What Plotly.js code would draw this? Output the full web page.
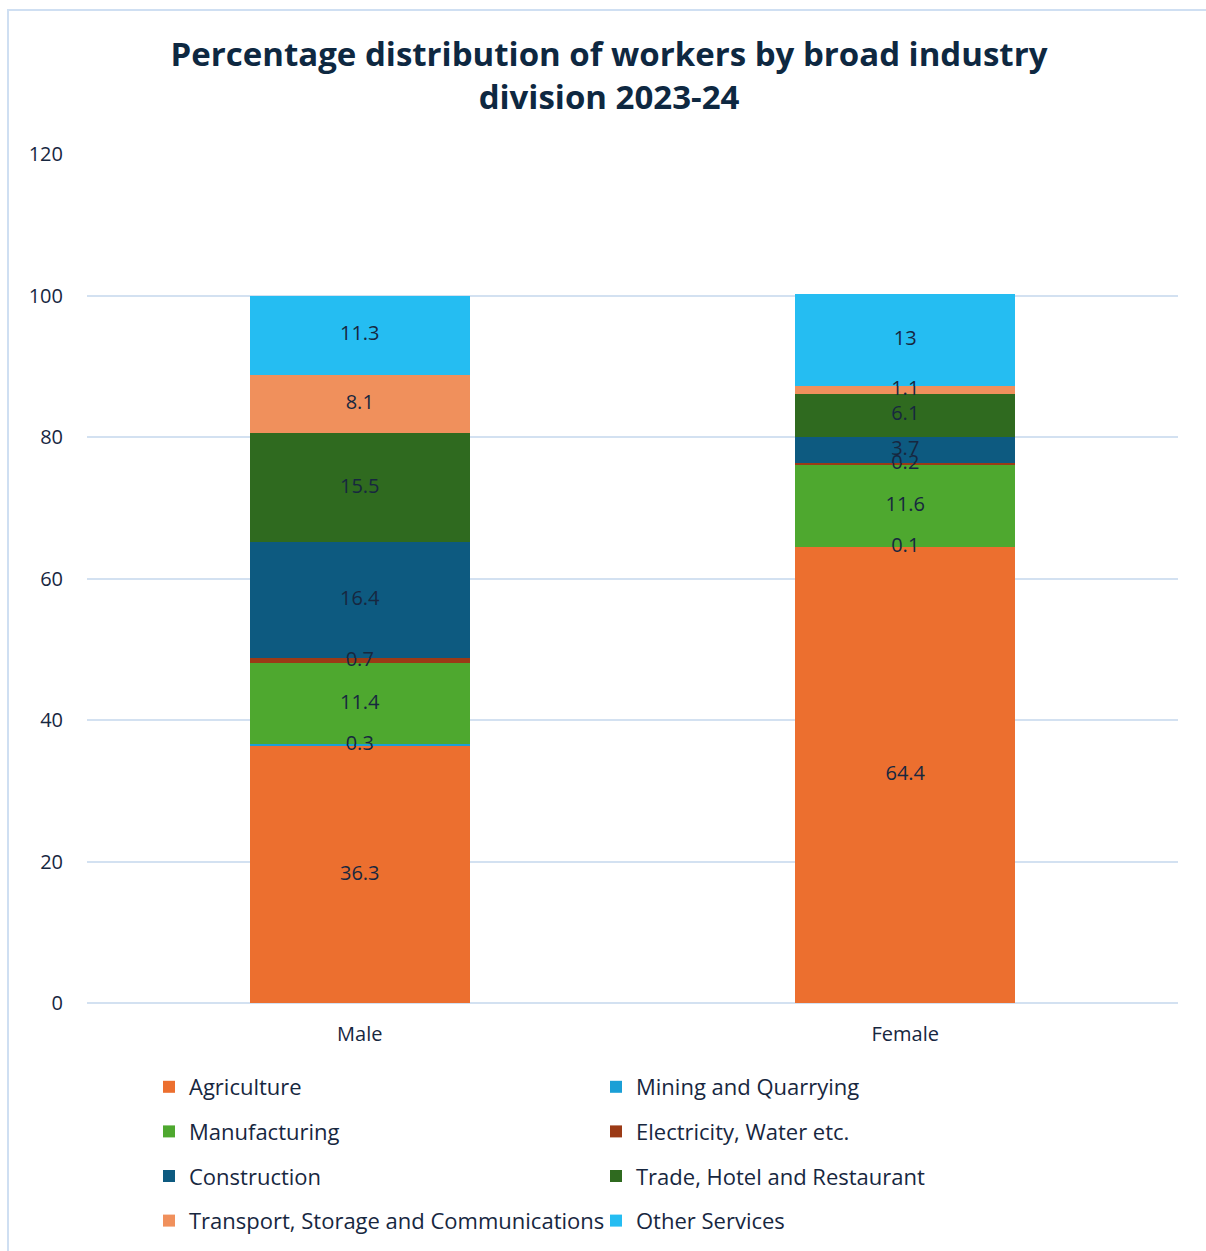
<!DOCTYPE html>
<html>
<head>
<meta charset="utf-8">
<script src="https://cdn.plot.ly/plotly-3.0.1.min.js"></script>
<style>
  html, body { margin: 0; padding: 0; background: #ffffff; }
  #wrap { position: relative; width: 1206px; height: 1251px; overflow: hidden; }
  #chart { position: absolute; left: 0; top: 0; width: 1206px; height: 1251px; }
  #frame { position: absolute; left: 7px; top: 9px; width: 1300px; height: 1400px;
           border-top: 2px solid #cfdff2; border-left: 2px solid #cfdff2; pointer-events: none; }
</style>
</head>
<body>
<div id="wrap">
  <div id="chart"></div>
  <div id="frame"></div>
</div>
<script>
const categories = ["Male", "Female"];
const industries = [
  "Agriculture",
  "Mining and Quarrying",
  "Manufacturing",
  "Electricity, Water etc.",
  "Construction",
  "Trade, Hotel and Restaurant",
  "Transport, Storage and Communications",
  "Other Services"
];
const agriculture   = [36.3, 64.4];
const mining        = [0.3, 0.1];
const manufacturing = [11.4, 11.6];
const electricity   = [0.7, 0.2];
const construction  = [16.4, 3.7];
const trade         = [15.5, 6.1];
const transport     = [8.1, 1.1];
const otherServices = [11.3, 13];
const seriesValues = [agriculture, mining, manufacturing, electricity, construction, trade, transport, otherServices];
const yTicks = [0, 20, 40, 60, 80, 100, 120];

const colors = ["#ec6f2f", "#1a9fd6", "#4ea82f", "#9b3a16", "#0d5a80", "#2f6a1f", "#f0905c", "#25bdf2"];
const legendOf = ["legend", "legend2", "legend", "legend2", "legend", "legend2", "legend", "legend2"];

const FONT = "Open Sans, Noto Sans, sans-serif";
const TXT = "#17273f";

const barTraces = industries.map((name, i) => ({
  type: "bar",
  name: name,
  x: categories,
  y: seriesValues[i],
  marker: { color: colors[i], line: { width: 0 } },
  legend: legendOf[i],
  legendgroup: "g" + i,
  hoverinfo: "x+y+name"
}));

// data labels: centred on each stacked segment, drawn above all bars
const labelTraces = [];
const running = categories.map(() => 0);
seriesValues.forEach((vals, i) => {
  const mids = vals.map((v, k) => running[k] + v / 2);
  vals.forEach((v, k) => { running[k] += v; });
  labelTraces.push({
    type: "scatter",
    mode: "text",
    x: categories,
    y: mids,
    text: vals.map(v => String(v)),
    textposition: "middle center",
    textfont: { family: FONT, size: 20, color: TXT },
    showlegend: false,
    hoverinfo: "skip",
    cliponaxis: false
  });
});

const legendCommon = {
  orientation: "v",
  traceorder: "grouped",
  tracegroupgap: 13,
  font: { family: FONT, size: 22, color: TXT },
  bgcolor: "rgba(0,0,0,0)",
  xref: "container", yref: "container",
  xanchor: "left", yanchor: "top",
  itemwidth: 30,
  itemclick: false, itemdoubleclick: false
};

const layout = {
  width: 1206,
  height: 1251,
  paper_bgcolor: "#ffffff",
  plot_bgcolor: "#ffffff",
  margin: { l: 87, r: 28, t: 154, b: 248, autoexpand: false },
  barmode: "stack",
  bargap: 0.597,
  showlegend: true,
  title: {
    text: "<b>Percentage distribution of workers by broad industry<br>division 2023-24</b>",
    font: { family: FONT, size: 33, color: "#0e2841" },
    x: 0.505, xanchor: "center",
    y: 1 - 66 / 1251, yanchor: "middle",
    xref: "container", yref: "container"
  },
  font: { family: FONT, color: TXT },
  xaxis: {
    type: "category",
    tickfont: { family: FONT, size: 20, color: TXT },
    showgrid: false,
    showline: false,
    zeroline: false,
    ticks: "",
    ticklabelstandoff: 17
  },
  yaxis: {
    range: [0, 120],
    tickvals: yTicks,
    ticktext: yTicks.map(String),
    tickfont: { family: FONT, size: 20, color: TXT },
    showgrid: true,
    gridcolor: "#d3e1f1",
    gridwidth: 2,
    zeroline: true,
    zerolinecolor: "#d3e1f1",
    zerolinewidth: 2,
    showline: false,
    ticks: "",
    ticklabelstandoff: 23
  },
  legend: Object.assign({}, legendCommon, { x: 149 / 1206, y: 1 - 1066 / 1251 }),
  legend2: Object.assign({}, legendCommon, { x: 596 / 1206, y: 1 - 1066 / 1251 })
};

Plotly.newPlot("chart", barTraces.concat(labelTraces), layout, { displayModeBar: false, staticPlot: true });
</script>
</body>
</html>
